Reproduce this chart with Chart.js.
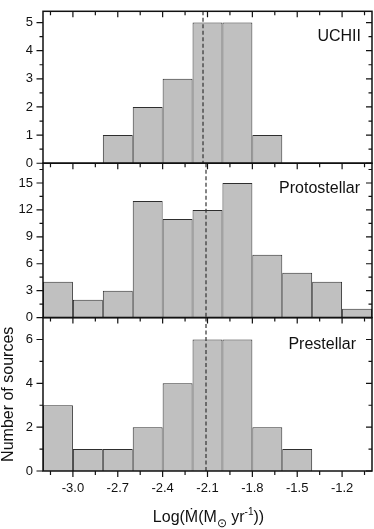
<!DOCTYPE html>
<html>
<head>
<meta charset="utf-8">
<script src="https://cdn.jsdelivr.net/npm/chart.js@4/dist/chart.umd.min.js"></script>
<style>
  html, body { margin: 0; padding: 0; background: #fff; }
  #wrap { width: 374px; height: 529px; position: relative; }
  canvas { display: block; }
</style>
</head>
<body>
<div id="wrap"><canvas id="c" width="374" height="529"></canvas></div>
<script>
// ---- data ----
const BIN_CENTERS = [-3.1, -2.9, -2.7, -2.5, -2.3, -2.1, -1.9, -1.7, -1.5, -1.3, -1.1];
const UCHII        = [0, 0, 1, 2, 3, 5, 5, 1, 0, 0, 0];
const PROTOSTELLAR = [4, 2, 3, 13, 11, 12, 15, 7, 5, 4, 1];
const PRESTELLAR   = [3, 1, 1, 2, 4, 6, 6, 2, 1, 0, 0];
const PANEL_NAMES  = ['UCHII', 'Protostellar', 'Prestellar'];
const MEDIANS      = [-2.13, -2.11, -2.11];

const X_MIN = -3.2, X_MAX = -1.0;
const X_TICKS = [-3.0, -2.7, -2.4, -2.1, -1.8, -1.5, -1.2];
const X_MINOR = [-3.15, -2.85, -2.55, -2.25, -1.95, -1.65, -1.35, -1.05];

const Y1_MAX = 5.4,  Y1_TICKS = [0, 1, 2, 3, 4, 5],        Y1_MINOR = [0.5, 1.5, 2.5, 3.5, 4.5];
const Y2_MAX = 17.2, Y2_TICKS = [0, 3, 6, 9, 12, 15],      Y2_MINOR = [1.5, 4.5, 7.5, 10.5, 13.5, 16.5];
const Y3_MAX = 7.0,  Y3_TICKS = [0, 2, 4, 6],              Y3_MINOR = [1, 3, 5];

const Y_TITLE = 'Number of sources';

// ---- styles ----
const FONT = '"Liberation Sans", Arial, Helvetica, sans-serif';
const INK = '#111';
const BAR_FILL = '#c0c0c0';
const BAR_EDGE = '#2e2e2e';

function pts(vals) { return BIN_CENTERS.map((x, i) => ({ x: x, y: vals[i] })); }

function yScale(max, ticks, weight, stackWeight, withTitle) {
  return {
    type: 'linear', position: 'left', stack: 'panels', stackWeight: stackWeight, weight: weight,
    min: 0, max: max,
    afterBuildTicks: s => { s.ticks = ticks.map(v => ({ value: v })); },
    afterFit: s => { s.width = 43; },
    grid: { display: false, drawTicks: true, tickLength: 6.5 },
    border: { display: false },
    ticks: { color: INK, padding: 3.5, autoSkip: false, font: { family: FONT, size: 13 }, callback: v => String(v) },
    title: withTitle ? { display: true, text: Y_TITLE, color: INK, font: { family: FONT, size: 16 }, padding: { top: -1.5, bottom: 0 } } : { display: false }
  };
}

const MINORS = { y1: Y1_MINOR, y2: Y2_MINOR, y3: Y3_MINOR };
const MAJORS = { y1: Y1_TICKS, y2: Y2_TICKS, y3: Y3_TICKS };
const LABEL_POS = [{ dx: 11, dy: 30 }, { dx: 12, dy: 29.5 }, { dx: 16, dy: 31.5 }];

const decor = {
  id: 'decor',
  afterDatasetsDraw(chart) {
    const ctx = chart.ctx;
    const xs = chart.scales.x;
    const area = chart.chartArea;
    const ids = ['y1', 'y2', 'y3'];
    ctx.save();
    ids.forEach((id, k) => {
      const ys = chart.scales[id];
      const top = ys.top, bot = ys.bottom;
      // median dashed line
      const mx = xs.getPixelForValue(MEDIANS[k]);
      ctx.strokeStyle = '#333';
      ctx.lineWidth = 1.2;
      ctx.setLineDash([4, 2.5]);
      ctx.beginPath(); ctx.moveTo(mx, top); ctx.lineTo(mx, bot); ctx.stroke();
      ctx.setLineDash([]);

      // frame
      ctx.strokeStyle = INK;
      ctx.lineWidth = 1.5;
      ctx.strokeRect(area.left, top, area.right - area.left, bot - top);

      ctx.lineWidth = 1.2;
      ctx.beginPath();
      // x ticks pointing down from the top edge
      X_TICKS.forEach(v => { const px = xs.getPixelForValue(v); ctx.moveTo(px, top); ctx.lineTo(px, top + 6); });
      X_MINOR.forEach(v => { const px = xs.getPixelForValue(v); ctx.moveTo(px, top); ctx.lineTo(px, top + 4); });
      if (k === ids.length - 1) {
        X_TICKS.forEach(v => { const px = xs.getPixelForValue(v); ctx.moveTo(px, bot); ctx.lineTo(px, bot + 6); });
        X_MINOR.forEach(v => { const px = xs.getPixelForValue(v); ctx.moveTo(px, bot); ctx.lineTo(px, bot + 4); });
      }
      // y ticks: left outward, right inward
      MAJORS[id].forEach(v => {
        const py = ys.getPixelForValue(v);
        ctx.moveTo(area.left - 6.5, py); ctx.lineTo(area.left, py);
        ctx.moveTo(area.right - 6, py); ctx.lineTo(area.right, py);
      });
      MINORS[id].forEach(v => {
        const py = ys.getPixelForValue(v);
        ctx.moveTo(area.left - 3.5, py); ctx.lineTo(area.left, py);
        ctx.moveTo(area.right - 3.5, py); ctx.lineTo(area.right, py);
      });
      ctx.stroke();

      // panel name
      ctx.fillStyle = INK;
      ctx.font = '16px ' + FONT;
      ctx.textAlign = 'right';
      ctx.textBaseline = 'alphabetic';
      ctx.fillText(PANEL_NAMES[k], area.right - LABEL_POS[k].dx, top + LABEL_POS[k].dy);
    });

    // x-axis title with sub/superscripts
    const parts = [
      { t: 'Log(\u1E40(M', size: 16, dy: 0 },
      { t: '\u2299', size: 12, dy: 5 },
      { t: ' yr', size: 16, dy: 0 },
      { t: '-1', size: 10, dy: -7 },
      { t: '))', size: 16, dy: 0 }
    ];
    let total = 0;
    parts.forEach(p => { ctx.font = p.size + 'px ' + FONT; p.w = ctx.measureText(p.t).width; total += p.w; });
    let x = (area.left + area.right) / 2 + 1 - total / 2;
    const base = 522;
    ctx.textAlign = 'left';
    ctx.textBaseline = 'alphabetic';
    parts.forEach(p => {
      ctx.font = p.size + 'px ' + FONT;
      ctx.fillText(p.t, x, base + p.dy);
      x += p.w;
    });
    ctx.restore();
  }
};

const barStyle = {
  type: 'bar', grouped: false, barPercentage: 1, categoryPercentage: 1,
  backgroundColor: BAR_FILL, borderColor: BAR_EDGE, borderWidth: 1, borderSkipped: 'start', inflateAmount: 0
};

new Chart(document.getElementById('c'), {
  type: 'bar',
  data: {
    datasets: [
      Object.assign({ label: PANEL_NAMES[0], data: pts(UCHII), yAxisID: 'y1' }, barStyle),
      Object.assign({ label: PANEL_NAMES[1], data: pts(PROTOSTELLAR), yAxisID: 'y2' }, barStyle),
      Object.assign({ label: PANEL_NAMES[2], data: pts(PRESTELLAR), yAxisID: 'y3' }, barStyle)
    ]
  },
  options: {
    responsive: false, animation: false, devicePixelRatio: 1,
    layout: { padding: { top: 1, right: 2, left: 0, bottom: 0 } },
    plugins: { legend: { display: false }, tooltip: { enabled: false } },
    scales: {
      x: {
        type: 'linear', position: 'bottom', min: X_MIN, max: X_MAX, offset: false,
        afterBuildTicks: s => { s.ticks = X_TICKS.map(v => ({ value: v })); },
        afterFit: s => { s.height = 58; },
        grid: { display: false, drawTicks: true, tickLength: 6, offset: false },
        border: { display: false },
        ticks: { color: INK, padding: 4, autoSkip: false, maxRotation: 0, font: { family: FONT, size: 13 }, callback: v => Number(v).toFixed(1) },
        title: { display: false }
      },
      y1: yScale(Y1_MAX, Y1_TICKS, 3, 155.5, false),
      y2: yScale(Y2_MAX, Y2_TICKS, 2, 158, false),
      y3: yScale(Y3_MAX, Y3_TICKS, 1, 157, true)
    }
  },
  plugins: [decor]
});
</script>
</body>
</html>
